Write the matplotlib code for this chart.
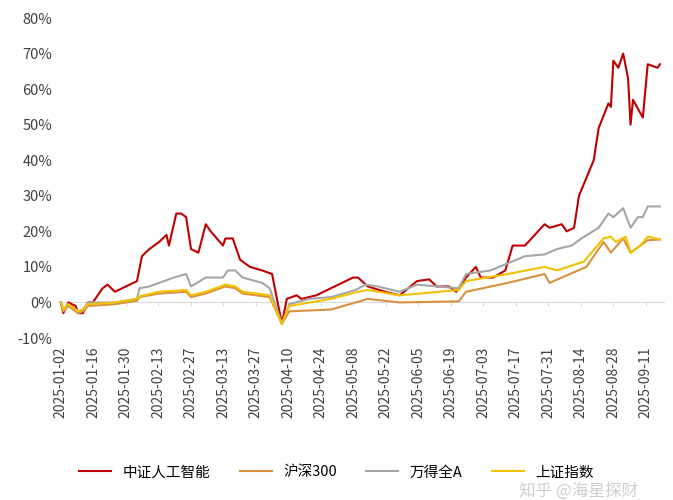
import numpy as np
import matplotlib.pyplot as plt

plt.rcParams['font.family'] = ['Noto Sans CJK SC', 'DejaVu Sans']

# x position in chart units (evenly spaced trading-day axis), return %
ai_x = [0, 1, 3, 6, 7, 9, 11, 13, 17, 19, 22, 31, 33, 36, 40, 43, 44, 47, 49, 51, 53, 56, 59, 61,
        66, 67, 70, 73, 77, 82, 86, 90, 92, 96, 98, 104, 110, 119, 121, 125, 132, 138, 145, 150,
        153, 158, 161, 165, 169, 171, 176, 181, 184, 189, 193, 197, 199, 204, 206, 209, 211, 217,
        219, 223, 224, 225, 227, 229, 231, 232, 233, 237, 239, 243, 244]
ai_vals = [0, -3, 0, -1, -3, -3, 0, 0, 4, 5, 3, 6, 13, 15, 17, 19, 16, 25, 25, 24, 15, 14, 22, 20,
           16, 18, 18, 12, 10, 9, 8, -6, 1, 2, 1, 2, 4, 7, 7, 4.5, 3, 2, 6, 6.5,
           4.5, 4.5, 3, 7, 10, 7, 7, 9, 16, 16, 19, 22, 21, 22, 20, 21, 30, 40,
           49, 56, 55, 68, 66, 70, 63, 50, 57, 52, 67, 66, 67]

hs300_x = [0, 1, 3, 7, 9, 11, 22, 31, 32, 40, 51, 53, 59, 67, 71, 74, 85, 90, 93, 110, 120, 125,
           138, 162, 165, 182, 197, 199, 214, 221, 224, 229, 232, 239, 244]
hs300_vals = [0, -2.5, -1, -3, -2.5, -1, -0.5, 0.5, 1.5, 2.5, 3, 1.5, 2.5, 4.5, 4, 2.5, 1.5, -6, -2.5,
              -2, 0, 1, 0, 0.3, 3, 5.5, 8, 5.5, 10, 17, 14, 18, 14, 17.5, 17.7]

winda_x = [0, 1, 3, 7, 9, 11, 22, 31, 32, 36, 40, 46, 51, 53, 59, 66, 68, 71, 74, 82, 85, 90, 93,
           101, 110, 120, 124, 129, 138, 145, 162, 165, 175, 182, 189, 197, 202, 208, 212, 219,
           223, 225, 229, 232, 235, 237, 239, 244]
winda_vals = [0, -2, -0.5, -2.5, -2, 0, 0, 1, 4, 4.5, 5.5, 7, 8, 4.5, 7, 7, 9, 9, 7, 5.5, 4, -6, -0.5,
              1, 1.5, 3.5, 5, 4.5, 3, 5, 4, 8, 9, 11, 13, 13.5, 15, 16, 18, 21,
              25, 24, 26.5, 21, 24, 24, 27, 27]

sh_x = [0, 1, 3, 7, 9, 11, 22, 31, 32, 40, 51, 53, 59, 67, 71, 74, 85, 90, 93, 110, 121, 125,
        138, 162, 165, 182, 197, 202, 213, 221, 224, 226, 230, 232, 236, 239, 244]
sh_vals = [0, -2, -0.5, -2.5, -2, -0.5, 0, 1, 1.7, 3, 3.5, 2, 3, 5, 4.5, 3, 2, -6, -1, 1, 3, 3.5,
           2, 3.5, 6, 8, 10, 9, 11.5, 18, 18.5, 17, 18.5, 14, 16, 18.5, 17.7]

tick_labels = ["2025-01-02", "2025-01-16", "2025-01-30", "2025-02-13", "2025-02-27",
               "2025-03-13", "2025-03-27", "2025-04-10", "2025-04-24", "2025-05-08",
               "2025-05-22", "2025-06-05", "2025-06-19", "2025-07-03", "2025-07-17",
               "2025-07-31", "2025-08-14", "2025-08-28", "2025-09-11"]

series = [
    ("中证人工智能", ai_x, ai_vals, "#C00000"),
    ("沪深300", hs300_x, hs300_vals, "#D9913F"),
    ("万得全A", winda_x, winda_vals, "#A6A6A6"),
    ("上证指数", sh_x, sh_vals, "#F2C200"),
]

fig = plt.figure(figsize=(6.73, 5.0), dpi=100)
ax = fig.add_axes([0.085, 0.324, 0.903, 0.64])

for name, xs, vals, color in series:
    ax.plot(xs, vals, color=color, linewidth=1.5, label=name)

ticks = np.arange(len(tick_labels)) * 13.23
ax.set_xticks(ticks)
ax.set_xticklabels(tick_labels, rotation=90, fontsize=10, color="#404040")
ax.tick_params(axis="x", length=0, pad=6)
ax.tick_params(axis="y", length=0, labelsize=10.5, labelcolor="#404040")
ax.axhline(0, color="#D9D9D9", linewidth=0.8, zorder=0)
ax.vlines(ticks, -0.9, 0, color="#D9D9D9", linewidth=0.8, zorder=0)

ax.set_ylim(-10, 80)
ax.set_yticks(range(-10, 81, 10))
ax.set_yticklabels([f"{v}%" for v in range(-10, 81, 10)])
ax.set_xlim(-1.5, 246)
for s in ax.spines.values():
    s.set_visible(False)

fig.legend(loc="lower center", bbox_to_anchor=(0.5, 0.015), ncol=4, frameon=False,
           fontsize=10.5, handlelength=2.2, columnspacing=2.0)
fig.text(0.86, 0.008, "知乎 @海星探财", fontsize=12, color="#BBBBBB", alpha=0.7, ha="center")

fig.savefig("out.png", dpi=100)
